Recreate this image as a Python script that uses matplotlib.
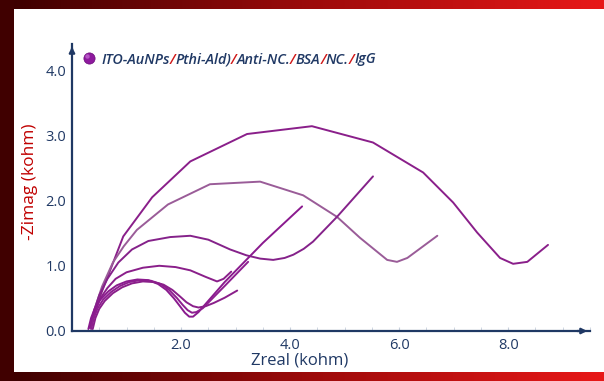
import numpy as np
import matplotlib.pyplot as plt
from matplotlib.ticker import MultipleLocator, FixedLocator
from matplotlib.colors import LinearSegmentedColormap

# Nyquist curves (Zreal, -Zimag) in kohm
c1_x = [0.33, 0.51, 0.94, 1.47, 2.17, 3.21, 4.40, 5.52, 6.44, 6.99, 7.43, 7.85, 8.09, 8.35, 8.73]
c1_y = [0.05, 0.52, 1.45, 2.05, 2.60, 3.02, 3.14, 2.89, 2.43, 1.97, 1.51, 1.12, 1.03, 1.06, 1.32]

c2_x = [0.33, 0.42, 0.55, 0.75, 0.95, 1.19, 1.76, 2.53, 3.45, 4.24, 4.86, 5.28, 5.78, 5.96, 6.15, 6.70]
c2_y = [0.05, 0.35, 0.68, 1.05, 1.30, 1.55, 1.94, 2.25, 2.29, 2.08, 1.75, 1.43, 1.09, 1.06, 1.12, 1.46]

c3_x = [0.33, 0.40, 0.50, 0.65, 0.85, 1.10, 1.40, 1.80, 2.17, 2.50, 2.90, 3.20, 3.45, 3.69,
        3.90, 4.06, 4.25, 4.42, 4.86, 5.52]
c3_y = [0.05, 0.30, 0.55, 0.80, 1.05, 1.25, 1.38, 1.44, 1.46, 1.40, 1.25, 1.16, 1.11, 1.09,
        1.12, 1.17, 1.26, 1.37, 1.75, 2.37]

c4_x = [0.35, 0.42, 0.52, 0.65, 0.80, 1.00, 1.30, 1.60, 1.90, 2.17, 2.45, 2.66, 2.78, 2.92]
c4_y = [0.05, 0.30, 0.50, 0.66, 0.80, 0.90, 0.97, 1.00, 0.98, 0.93, 0.83, 0.76, 0.80, 0.91]

s1_x = [0.30, 0.35, 0.42, 0.52, 0.67, 0.82, 1.00, 1.20, 1.40, 1.58, 1.73, 1.87, 1.98,
        2.07, 2.15, 2.22, 2.32, 2.80, 3.50, 4.22]
s1_y = [0.03, 0.20, 0.35, 0.48, 0.61, 0.70, 0.76, 0.79, 0.78, 0.72, 0.63, 0.50, 0.38,
        0.28, 0.22, 0.22, 0.29, 0.75, 1.35, 1.91]

s2_x = [0.35, 0.40, 0.47, 0.57, 0.72, 0.88, 1.05, 1.25, 1.45, 1.63, 1.78, 1.92, 2.03,
        2.12, 2.20, 2.28, 2.40, 2.80, 3.23]
s2_y = [0.03, 0.20, 0.35, 0.48, 0.60, 0.69, 0.75, 0.78, 0.77, 0.72, 0.63, 0.51, 0.40,
        0.32, 0.28, 0.29, 0.35, 0.69, 1.06]

s3_x = [0.38, 0.43, 0.50, 0.60, 0.75, 0.92, 1.10, 1.30, 1.50, 1.68, 1.84, 1.98, 2.10,
        2.22, 2.32, 2.45, 2.60, 2.80, 3.03]
s3_y = [0.03, 0.20, 0.34, 0.46, 0.58, 0.67, 0.73, 0.76, 0.75, 0.71, 0.63, 0.53, 0.44,
        0.38, 0.36, 0.38, 0.43, 0.51, 0.62]

curves = [(c1_x, c1_y, '#8a1f8a'), (c2_x, c2_y, '#9a5c98'), (c3_x, c3_y, '#85228a'),
          (c4_x, c4_y, '#8a1f8a'), (s1_x, s1_y, '#8a1a8e'), (s2_x, s2_y, '#8e1f90'),
          (s3_x, s3_y, '#8a1f8a')]

x_ticks = [2.0, 4.0, 6.0, 8.0]
y_ticks = [0.0, 1.0, 2.0, 3.0, 4.0]

legend_parts = [("ITO-AuNPs", '#1f3864'), ("/", '#d01818'), ("Pthi-Ald)", '#1f3864'),
                ("/", '#d01818'), ("Anti-NC.", '#1f3864'), ("/", '#d01818'),
                ("BSA", '#1f3864'), ("/", '#d01818'), ("NC.", '#1f3864'),
                ("/", '#d01818'), ("IgG", '#1f3864')]

navy = '#1f3864'
plt.rcParams['font.family'] = ['Open Sans', 'DejaVu Sans']

fig = plt.figure(figsize=(6.04, 3.81), dpi=100)

# frame bars
grad = np.linspace(0, 1, 256).reshape(1, -1)
cm = LinearSegmentedColormap.from_list('frame', ['#3a0000', '#9a0a0a', '#e81818'])
for b in [372 / 381, 0]:
    bax = fig.add_axes([0, b, 1, 9 / 381])
    bax.imshow(grad, aspect='auto', cmap=cm)
    bax.axis('off')
lax = fig.add_axes([0, 0, 14 / 604, 1])
lax.set_facecolor('#400000')
lax.set_xticks([])
lax.set_yticks([])
for s in lax.spines.values():
    s.set_visible(False)

ax = fig.add_axes([72 / 604, 50 / 381, 518 / 604, 287 / 381])
for x, y, col in curves:
    ax.plot(x, y, color=col, lw=1.4, solid_capstyle='round', solid_joinstyle='round')

ax.set_xlim(0, 9.5)
ax.set_ylim(0, 4.4)
for s in ['top', 'right']:
    ax.spines[s].set_visible(False)
for s in ['left', 'bottom']:
    ax.spines[s].set_color(navy)
    ax.spines[s].set_linewidth(1.6)

ax.xaxis.set_major_locator(FixedLocator(x_ticks))
ax.set_xticklabels(['%.1f' % v for v in x_ticks])
ax.xaxis.set_minor_locator(MultipleLocator(0.5))
ax.yaxis.set_major_locator(FixedLocator(y_ticks))
ax.set_yticklabels(['%.1f' % v for v in y_ticks])
ax.tick_params(axis='x', which='both', direction='in', length=3, color='#c8d0dc', labelsize=10.5, labelcolor=navy, pad=5)
ax.tick_params(axis='y', length=0, labelsize=10.5, labelcolor=navy, pad=4)

ax.set_xlabel('Zreal (kohm)', fontsize=12, color=navy)
ax.xaxis.set_label_coords(0.44, -0.075)
ax.set_ylabel('-Zimag (kohm)', fontsize=12.5, color='#c00000')
ax.yaxis.set_label_coords(-0.066, 0.52)

# axis arrows
ax.annotate('', xy=(1.0, 0), xytext=(0.97, 0), xycoords='axes fraction',
            arrowprops=dict(arrowstyle='-|>', color=navy, lw=1.6, mutation_scale=8))
ax.annotate('', xy=(0, 1.0), xytext=(0, 0.97), xycoords='axes fraction',
            arrowprops=dict(arrowstyle='-|>', color=navy, lw=1.6, mutation_scale=8))

# legend: sphere marker plus multicolour label
ax.scatter([0.31], [4.18], s=65, color='#8e1a9e', edgecolor='#6a0a78', lw=0.5, zorder=5, clip_on=False)
ax.scatter([0.28], [4.22], s=10, color='#d27ee0', alpha=0.6, lw=0, zorder=6, clip_on=False)
fig.canvas.draw()
renderer = fig.canvas.get_renderer()
xpos = 101 / 604
for txt, col in legend_parts:
    t = fig.text(xpos, 1 - 63.5 / 381, txt, color=col, fontsize=10.4, style='italic',
                 fontweight='semibold', va='baseline', ha='left')
    bb = t.get_window_extent(renderer)
    xpos += bb.width / (fig.get_figwidth() * fig.dpi)

fig.savefig('out.png', dpi=100)
